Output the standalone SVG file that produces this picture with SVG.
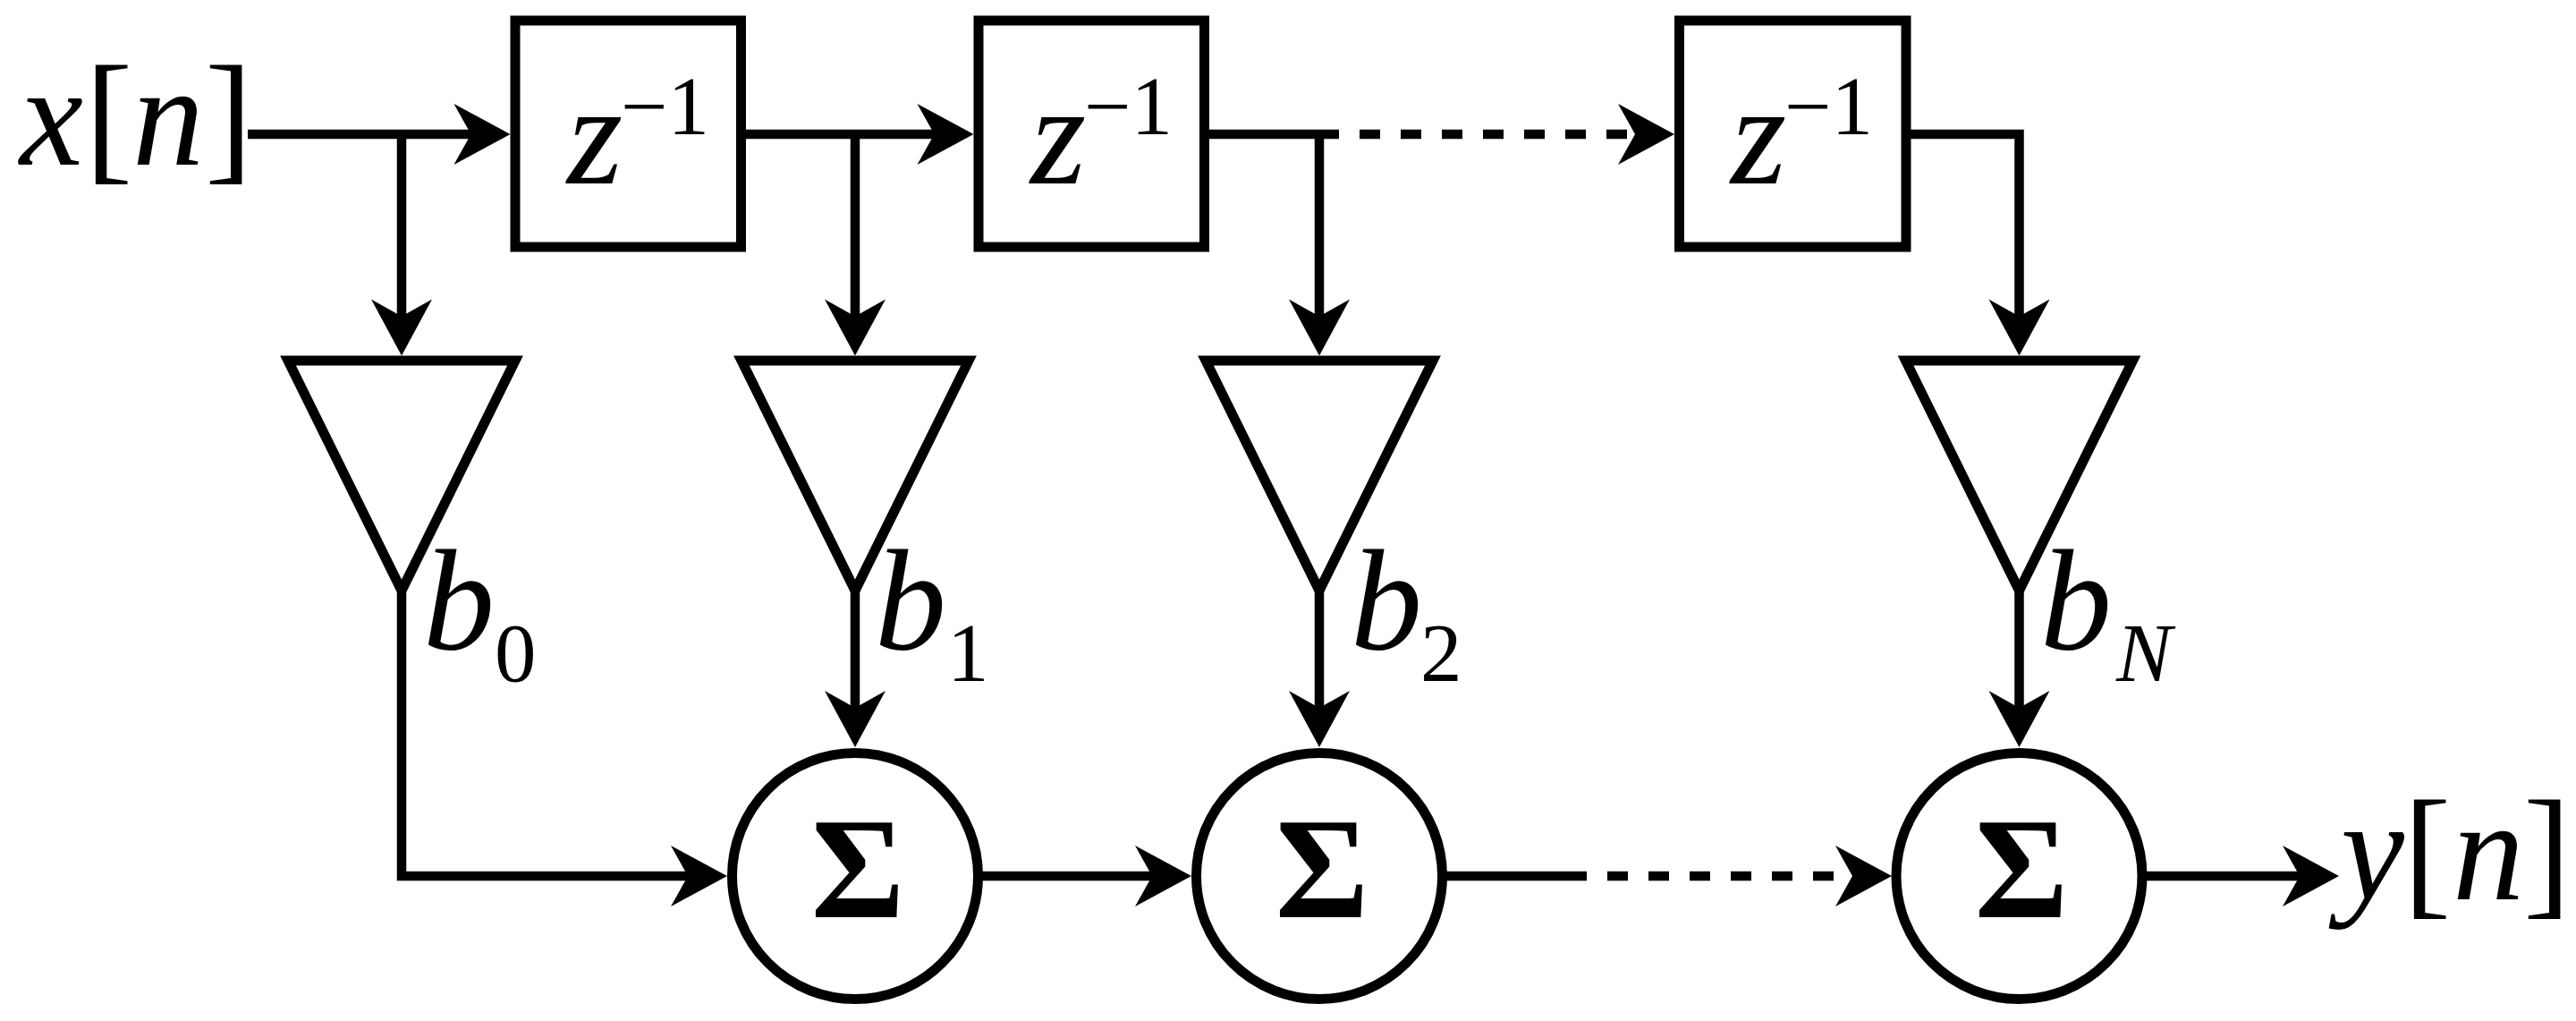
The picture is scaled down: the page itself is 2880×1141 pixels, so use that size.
<svg xmlns="http://www.w3.org/2000/svg" xmlns:xlink="http://www.w3.org/1999/xlink" width="2880" height="1141" viewBox="0 0 2880 1141">
<style>
.shape{fill:#fff;stroke:#000;stroke-width:11;stroke-linejoin:miter;stroke-miterlimit:10}
.wire{fill:none;stroke:#000;stroke-width:10.5;stroke-linejoin:miter}
.dots{fill:none;stroke:#000;stroke-width:10.5;stroke-dasharray:23 23}
.it{font-style:italic}
.sig{font-weight:bold;font-size:160px;text-anchor:middle}
</style>
<defs>
<path id="ah" d="M0,0 L-63,-34 L-44,0 L-63,34 Z" fill="#000"/>
</defs>
<rect width="2880" height="1141" fill="#fff"/>
<g id="connectors">
<path class="wire" d="M277 150 H535"/>
<path class="wire" d="M449 150 V380"/>
<path class="wire" d="M828.5 150 H1055"/>
<path class="wire" d="M956 150 V380"/>
<path class="wire" d="M1346.5 150 H1497"/>
<path class="dots" d="M1520 150 H1820"/>
<path class="wire" d="M1475 150 V380"/>
<path class="wire" d="M2131 150 H2257.5 V380"/>
<path class="wire" d="M449 660 V979 H795"/>
<path class="wire" d="M956 660 V817"/>
<path class="wire" d="M1475 660 V817"/>
<path class="wire" d="M2257.5 660 V817"/>
<path class="wire" d="M1094 979 H1312"/>
<path class="wire" d="M1612 979 H1774"/>
<path class="dots" d="M1797 979 H2050"/>
<path class="wire" d="M2395 979 H2595"/>
<use xlink:href="#ah" transform="translate(570.5,150)"/>
<use xlink:href="#ah" transform="translate(1088.5,150)"/>
<use xlink:href="#ah" transform="translate(1872,150)"/>
<use xlink:href="#ah" transform="translate(813,979)"/>
<use xlink:href="#ah" transform="translate(1332,979)"/>
<use xlink:href="#ah" transform="translate(2115,979)"/>
<use xlink:href="#ah" transform="translate(2615,979)"/>
<use xlink:href="#ah" transform="translate(449,397.5) rotate(90)"/>
<use xlink:href="#ah" transform="translate(956,397.5) rotate(90)"/>
<use xlink:href="#ah" transform="translate(1475,397.5) rotate(90)"/>
<use xlink:href="#ah" transform="translate(2257.5,397.5) rotate(90)"/>
<use xlink:href="#ah" transform="translate(956,835) rotate(90)"/>
<use xlink:href="#ah" transform="translate(1475,835) rotate(90)"/>
<use xlink:href="#ah" transform="translate(2257.5,835) rotate(90)"/>
</g>
<g font-family="Liberation Serif, Times New Roman, serif" fill="#000">
<g id="input">
<text class="it" x="22" y="184" font-size="160">x</text>
<text x="95" y="184" font-size="160">[</text>
<text class="it" x="148" y="184" font-size="160">n</text>
<text x="229" y="184" font-size="160">]</text>
</g>
<g id="delay1">
<rect class="shape" x="576" y="23" width="252.5" height="253"/>
<text class="it" x="634" y="205" font-size="160">z</text>
<text x="694" y="150" font-size="93">−1</text>
</g>
<g id="delay2">
<rect class="shape" x="1094" y="23" width="252.5" height="253"/>
<text class="it" x="1152" y="205" font-size="160">z</text>
<text x="1212" y="150" font-size="93">−1</text>
</g>
<g id="delay3">
<rect class="shape" x="1877.5" y="23" width="253.5" height="253"/>
<text class="it" x="1935" y="205" font-size="160">z</text>
<text x="1995" y="150" font-size="93">−1</text>
</g>
<g id="gain0">
<path class="shape" d="M322 403 H576 L449 660 Z"/>
<text class="it" x="473" y="725" font-size="160">b</text>
<text x="553" y="761" font-size="93">0</text>
</g>
<g id="gain1">
<path class="shape" d="M829 403 H1083 L956 660 Z"/>
<text class="it" x="978" y="725" font-size="160">b</text>
<text x="1059" y="761" font-size="93">1</text>
</g>
<g id="gain2">
<path class="shape" d="M1348 403 H1602 L1475 660 Z"/>
<text class="it" x="1510" y="725" font-size="160">b</text>
<text x="1588" y="761" font-size="93">2</text>
</g>
<g id="gainN">
<path class="shape" d="M2130.5 403 H2384.5 L2257.5 660 Z"/>
<text class="it" x="2281" y="725" font-size="160">b</text>
<text class="it" x="2366" y="761" font-size="93">N</text>
</g>
<g id="sum1">
<circle class="shape" cx="956" cy="979" r="137.5"/>
<text class="sig" x="959" y="1025">Σ</text>
</g>
<g id="sum2">
<circle class="shape" cx="1475" cy="979" r="137.5"/>
<text class="sig" x="1478" y="1025">Σ</text>
</g>
<g id="sumN">
<circle class="shape" cx="2257.5" cy="979" r="137.5"/>
<text class="sig" x="2260" y="1025">Σ</text>
</g>
<g id="output">
<text class="it" x="2617" y="1005" font-size="160">y</text>
<text x="2687" y="1005" font-size="160">[</text>
<text class="it" x="2742" y="1005" font-size="160">n</text>
<text x="2821" y="1005" font-size="160">]</text>
</g>
</g>
</svg>
